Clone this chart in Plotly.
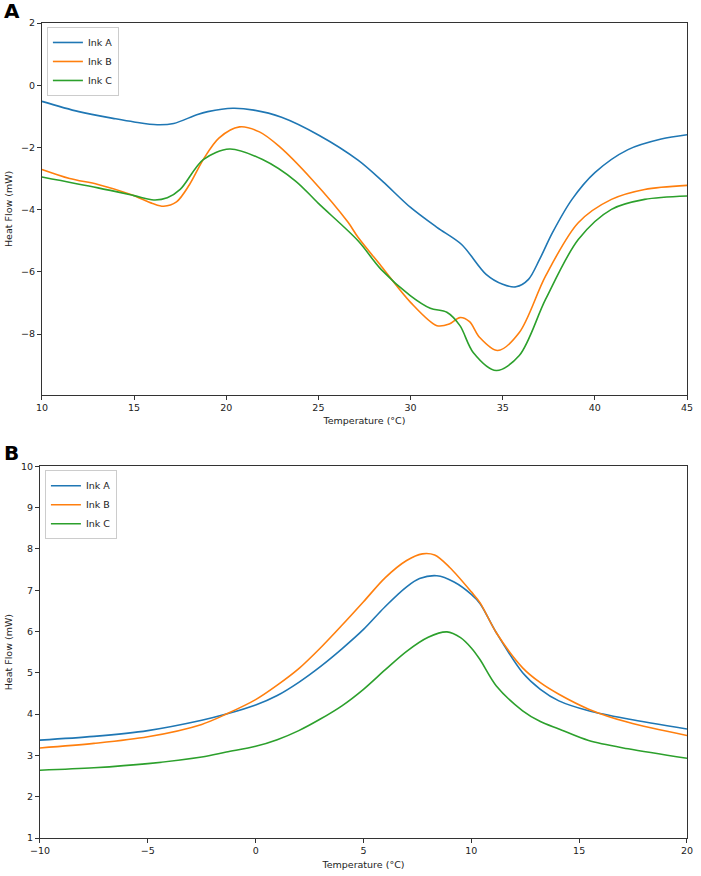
import plotly.graph_objects as go

# ---------------- Panel A data ----------------
a_ink_a_x = [10, 12, 14, 15, 16.25, 17.15, 18.4, 19, 20.35, 21.5, 23, 25, 27.15, 28.5, 30, 31.43, 32.77, 34.1, 35, 35.72, 36.4, 37, 37.7, 38.76, 40, 41.8, 43.6, 45]
a_ink_a_y = [-0.52, -0.85, -1.08, -1.18, -1.27, -1.23, -0.95, -0.85, -0.74, -0.8, -1.03, -1.6, -2.41, -3.1, -3.93, -4.57, -5.12, -6.08, -6.4, -6.48, -6.24, -5.6, -4.74, -3.67, -2.81, -2.07, -1.73, -1.59]

a_ink_b_x = [10, 11.5, 13.04, 14.82, 16, 16.6, 17.3, 18, 18.75, 19.6, 20.72, 21.8, 22.86, 24.65, 26.6, 27.15, 28.4, 30, 31.43, 32.1, 32.68, 33.2, 33.75, 34.73, 35.9, 37.33, 39.1, 40.9, 42.7, 45]
a_ink_b_y = [-2.71, -3.0, -3.19, -3.51, -3.8, -3.89, -3.75, -3.2, -2.39, -1.7, -1.34, -1.5, -1.96, -3.03, -4.4, -4.89, -5.81, -6.98, -7.73, -7.68, -7.47, -7.6, -8.11, -8.53, -7.95, -6.13, -4.42, -3.67, -3.35, -3.22]

a_ink_c_x = [10, 13.04, 15, 16.07, 16.8, 17.5, 18.75, 20.18, 21.97, 23.76, 25, 27.15, 28.4, 30, 31.07, 31.97, 32.68, 33.4, 34.65, 35.9, 37.33, 39.1, 40.9, 42.7, 45]
a_ink_c_y = [-2.95, -3.3, -3.55, -3.69, -3.62, -3.35, -2.39, -2.05, -2.39, -3.08, -3.8, -5.0, -5.92, -6.77, -7.17, -7.3, -7.73, -8.59, -9.17, -8.69, -6.88, -4.96, -3.99, -3.67, -3.56]

# ---------------- Panel B data ----------------
b_ink_a_x = [-10, -7.5, -5, -2.5, -1.36, 0, 1, 2, 3, 4, 5, 6, 7, 7.6, 8.4, 9.2, 10, 10.4, 11.16, 12.38, 13.2, 14.06, 15.44, 17.27, 20]
b_ink_a_y = [3.37, 3.46, 3.6, 3.85, 4.0, 4.22, 4.45, 4.77, 5.15, 5.58, 6.05, 6.6, 7.08, 7.28, 7.35, 7.2, 6.9, 6.68, 5.97, 5.0, 4.6, 4.32, 4.08, 3.88, 3.64]

b_ink_b_x = [-10, -7.5, -5, -2.5, -1.36, 0, 1, 2, 3, 4, 5, 6, 7, 7.73, 8.3, 9, 10, 10.4, 11.16, 12.38, 13.2, 14.06, 15.44, 17.27, 20]
b_ink_b_y = [3.18, 3.29, 3.45, 3.75, 4.0, 4.35, 4.7, 5.1, 5.6, 6.15, 6.72, 7.3, 7.72, 7.88, 7.85, 7.55, 6.96, 6.7, 5.97, 5.12, 4.76, 4.48, 4.12, 3.8, 3.48]

b_ink_c_x = [-10, -7.5, -5, -2.5, -1.36, 0, 1, 2, 3, 4, 5, 6, 7, 8, 8.87, 9.5, 10, 10.4, 11.16, 12.38, 13.2, 14.06, 15.44, 17.27, 20]
b_ink_c_y = [2.64, 2.7, 2.8, 2.96, 3.08, 3.22, 3.38, 3.6, 3.88, 4.2, 4.6, 5.07, 5.52, 5.86, 5.99, 5.85, 5.6, 5.32, 4.68, 4.08, 3.82, 3.64, 3.36, 3.16, 2.93]

series_names = ["Ink A", "Ink B", "Ink C"]
colors = ["#1f77b4", "#ff7f0e", "#2ca02c"]

FONT = "DejaVu Sans"
FS = 9.5

fig = go.Figure()

panel_a = [(a_ink_a_x, a_ink_a_y), (a_ink_b_x, a_ink_b_y), (a_ink_c_x, a_ink_c_y)]
panel_b = [(b_ink_a_x, b_ink_a_y), (b_ink_b_x, b_ink_b_y), (b_ink_c_x, b_ink_c_y)]

for (xs, ys), name, c in zip(panel_a, series_names, colors):
    fig.add_trace(go.Scatter(x=xs, y=ys, mode="lines", name=name,
                             line=dict(color=c, width=1.6, shape="spline", smoothing=0.9),
                             xaxis="x", yaxis="y", legend="legend"))
for (xs, ys), name, c in zip(panel_b, series_names, colors):
    fig.add_trace(go.Scatter(x=xs, y=ys, mode="lines", name=name,
                             line=dict(color=c, width=1.6, shape="spline", smoothing=0.9),
                             xaxis="x2", yaxis="y2", legend="legend2"))

# geometry (pixels)
W, H = 701, 876
ml, mr, mt, mb = 37, 8, 23, 33
pw = W - ml - mr
ph = H - mt - mb

def px_x(p):
    return (p - ml) / pw

def px_y(p):
    return (H - mb - p) / ph

axis_common = dict(showline=True, linecolor="#333333", linewidth=1, mirror=True,
                   ticks="outside", ticklen=4, tickcolor="#333333", showgrid=False,
                   zeroline=False, tickfont=dict(family=FONT, size=FS, color="#222222"),
                   title_font=dict(family=FONT, size=FS, color="#222222"))

fig.update_layout(
    width=W, height=H,
    margin=dict(l=ml, r=mr, t=mt, b=mb),
    paper_bgcolor="white", plot_bgcolor="white",
    font=dict(family=FONT, size=FS, color="#222222"),
    xaxis=dict(domain=[px_x(40), 1], range=[10, 45], dtick=5, anchor="y",
               title=dict(text="Temperature (°C)", standoff=5), **axis_common),
    yaxis=dict(domain=[px_y(397), 1], range=[-9.95, 2], dtick=2, anchor="x",
               title=dict(text="Heat Flow (mW)", standoff=6), **axis_common),
    xaxis2=dict(domain=[px_x(38), 1], range=[-10, 20], dtick=5, anchor="y2",
                title=dict(text="Temperature (°C)", standoff=5), **axis_common),
    yaxis2=dict(domain=[0, px_y(469)], range=[1, 10], dtick=1, anchor="x2",
                title=dict(text="Heat Flow (mW)", standoff=6), **axis_common),
    legend=dict(x=px_x(45), y=px_y(27), xanchor="left", yanchor="top",
                bgcolor="rgba(255,255,255,0.8)", bordercolor="#cccccc", borderwidth=1,
                font=dict(family=FONT, size=FS, color="#222222"), itemwidth=30,
                tracegroupgap=0),
    legend2=dict(x=px_x(43), y=px_y(473), xanchor="left", yanchor="top",
                 bgcolor="rgba(255,255,255,0.8)", bordercolor="#cccccc", borderwidth=1,
                 font=dict(family=FONT, size=FS, color="#222222"), itemwidth=30,
                 tracegroupgap=0),
    showlegend=True,
)

fig.add_annotation(text="<b>A</b>", xref="paper", yref="paper", x=px_x(0), y=px_y(-3),
                   xanchor="left", yanchor="top", showarrow=False,
                   font=dict(family=FONT, size=20, color="black"))
fig.add_annotation(text="<b>B</b>", xref="paper", yref="paper", x=px_x(0), y=px_y(442),
                   xanchor="left", yanchor="top", showarrow=False,
                   font=dict(family=FONT, size=20, color="black"))

fig.write_html("out.html")
